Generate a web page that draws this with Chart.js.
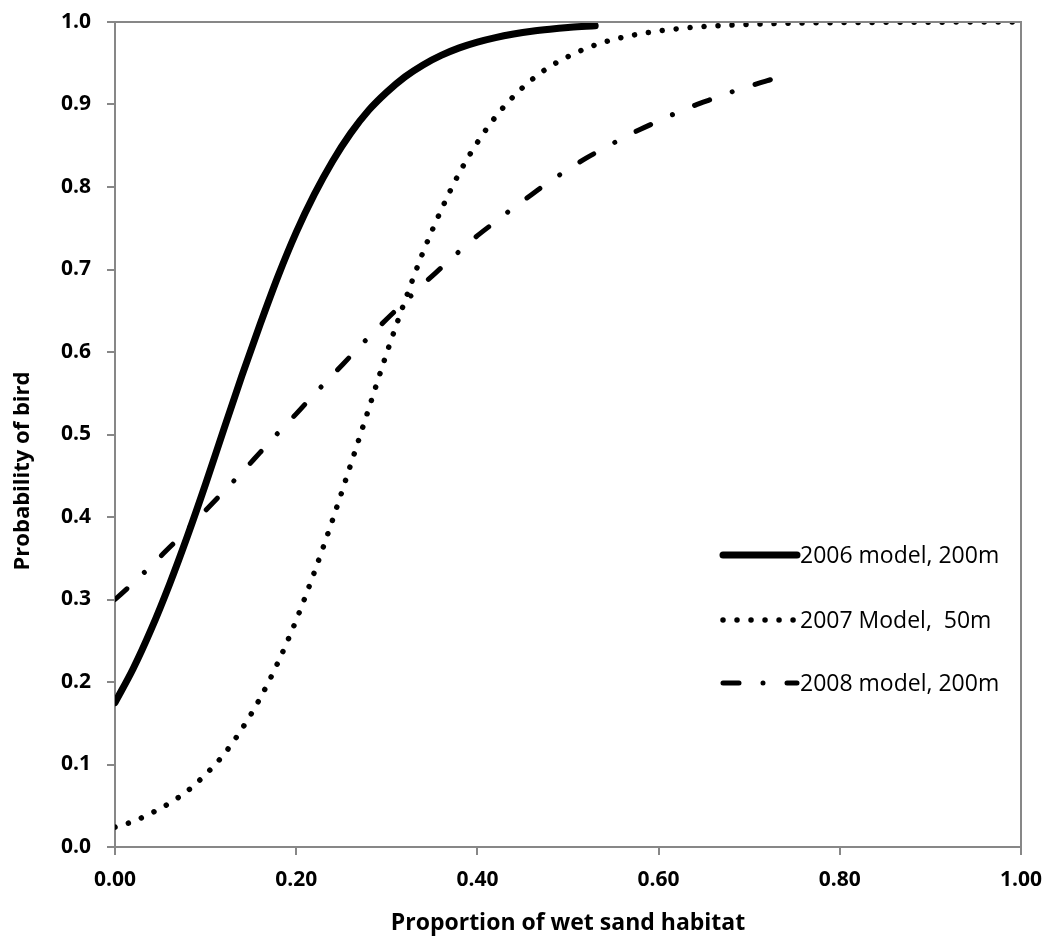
<!DOCTYPE html>
<html>
<head>
<meta charset="utf-8">
<script src="https://cdn.jsdelivr.net/npm/chart.js@4.4.1/dist/chart.umd.min.js"></script>
<style>
  html, body { margin: 0; padding: 0; background: #ffffff; }
  #wrap { width: 1050px; height: 943px; }
</style>
</head>
<body>
<div id="wrap"><canvas id="c" width="1050" height="943"></canvas></div>
<script>
// ---- data ----
const seriesLabels = ["2006 model, 200m", "2007 Model,  50m", "2008 model, 200m"];

const x2006 = [0, 0.02, 0.04, 0.06, 0.08, 0.10, 0.12, 0.14, 0.16, 0.18, 0.20, 0.22, 0.24, 0.26, 0.28, 0.30,
               0.32, 0.34, 0.36, 0.38, 0.40, 0.42, 0.44, 0.46, 0.48, 0.50, 0.52, 0.53];
const y2006 = [0.175, 0.216, 0.264, 0.318, 0.377, 0.440, 0.506, 0.571, 0.633, 0.692, 0.745, 0.791, 0.831, 0.865,
               0.893, 0.915, 0.9335, 0.9480, 0.9595, 0.9686, 0.9756, 0.9811, 0.9854, 0.9888, 0.9913, 0.9933,
               0.9948, 0.9955];

const x2007 = [0, 0.02, 0.04, 0.06, 0.08, 0.10, 0.12, 0.14, 0.16, 0.18, 0.20, 0.22, 0.24, 0.26, 0.28, 0.30,
               0.32, 0.34, 0.36, 0.38, 0.40, 0.42, 0.44, 0.46, 0.48, 0.50, 0.52, 0.54, 0.56, 0.58, 0.60,
               0.62, 0.64, 0.66, 0.68, 0.70, 0.72, 0.74, 0.76, 0.80, 0.85, 0.90, 0.95, 1.00];
const y2007 = [0.024, 0.031, 0.041, 0.053, 0.068, 0.088, 0.112, 0.143, 0.180, 0.224, 0.275, 0.333, 0.396, 0.463,
               0.531, 0.599, 0.662, 0.721, 0.772, 0.817, 0.854, 0.885, 0.910, 0.930, 0.946, 0.958, 0.968,
               0.9756, 0.9814, 0.9857, 0.9891, 0.9917, 0.9937, 0.9952, 0.9963, 0.9972, 0.9979, 0.9984,
               0.9988, 0.9993, 0.9996, 0.9998, 0.9999, 1.000];

const x2008 = [0, 0.02, 0.04, 0.06, 0.08, 0.10, 0.12, 0.14, 0.16, 0.18, 0.20, 0.22, 0.24, 0.26, 0.28, 0.30,
               0.32, 0.34, 0.36, 0.38, 0.40, 0.42, 0.44, 0.46, 0.48, 0.50, 0.52, 0.54, 0.56, 0.58, 0.60,
               0.62, 0.64, 0.66, 0.68, 0.70, 0.72, 0.734];
const y2008 = [0.300, 0.320, 0.341, 0.363, 0.385, 0.408, 0.431, 0.454, 0.478, 0.502, 0.525, 0.549, 0.572, 0.595,
               0.618, 0.640, 0.661, 0.682, 0.702, 0.722, 0.741, 0.758, 0.775, 0.791, 0.807, 0.821, 0.835,
               0.847, 0.859, 0.870, 0.880, 0.890, 0.899, 0.907, 0.915, 0.922, 0.929, 0.933];

const xTickLabels = ["0.00", "0.20", "0.40", "0.60", "0.80", "1.00"];
const yTickLabels = ["0.0", "0.1", "0.2", "0.3", "0.4", "0.5", "0.6", "0.7", "0.8", "0.9", "1.0"];
const xTitle = "Proportion of wet sand habitat";
const yTitle = "Probability of bird";

// ---- helpers ----
function pts(xs, ys) { return xs.map((x, i) => ({ x: x, y: ys[i] })); }

const AXIS_GRAY = '#878787';
const FONT = '"Open Sans"';

const boxPlugin = {
  id: 'boxPlugin',
  afterDatasetsDraw(chart) {
    const a = chart.chartArea, ctx = chart.ctx;
    ctx.save();
    ctx.strokeStyle = AXIS_GRAY;
    ctx.lineWidth = 2;
    ctx.beginPath();
    ctx.moveTo(a.left, a.top);
    ctx.lineTo(a.right, a.top);
    ctx.lineTo(a.right, a.bottom);
    ctx.stroke();
    ctx.restore();
  }
};

// y-axis title (drawn as text, slightly below the plot centre as in the reference)
const yTitlePlugin = {
  id: 'yTitlePlugin',
  afterDraw(chart) {
    const ctx = chart.ctx;
    ctx.save();
    ctx.translate(23, 471);
    ctx.rotate(-Math.PI / 2);
    ctx.fillStyle = '#000';
    ctx.font = 'bold 22px ' + FONT;
    ctx.textAlign = 'center';
    ctx.textBaseline = 'middle';
    ctx.fillText(yTitle, 0, 0);
    ctx.restore();
  }
};

const legendPlugin = {
  id: 'insideLegend',
  afterDraw(chart) {
    const ctx = chart.ctx;
    const rows = [555, 620, 683];
    const x1 = 723, x2 = 797;
    ctx.save();
    chart.data.datasets.forEach((ds, i) => {
      const y = rows[i];
      ctx.strokeStyle = ds.borderColor;
      ctx.lineWidth = ds.borderWidth;
      ctx.lineCap = ds.borderCapStyle || 'butt';
      ctx.setLineDash(ds.borderDash || []);
      ctx.beginPath();
      ctx.moveTo(x1, y);
      ctx.lineTo(x2, y);
      ctx.stroke();
      ctx.setLineDash([]);
      ctx.fillStyle = '#000';
      ctx.font = '23px ' + FONT;
      ctx.textAlign = 'left';
      ctx.textBaseline = 'middle';
      ctx.fillText(ds.label, 800, y + 1);
    });
    ctx.restore();
  }
};

new Chart(document.getElementById('c'), {
  type: 'line',
  data: {
    datasets: [
      { label: seriesLabels[0], data: pts(x2006, y2006), borderColor: '#000', borderWidth: 7,
        borderCapStyle: 'round', borderDash: [], pointRadius: 0, fill: false, cubicInterpolationMode: 'monotone' },
      { label: seriesLabels[1], data: pts(x2007, y2007), borderColor: '#000', borderWidth: 5.5,
        borderCapStyle: 'round', borderDash: [0.01, 14], pointRadius: 0, fill: false, cubicInterpolationMode: 'monotone' },
      { label: seriesLabels[2], data: pts(x2008, y2008), borderColor: '#000', borderWidth: 5,
        borderCapStyle: 'round', borderDash: [16, 24, 0.01, 24], pointRadius: 0, fill: false, cubicInterpolationMode: 'monotone' }
    ]
  },
  options: {
    responsive: false,
    animation: false,
    devicePixelRatio: 1,
    layout: { padding: { left: 0, right: 29, top: 22, bottom: 0 } },
    plugins: { legend: { display: false }, tooltip: { enabled: false } },
    scales: {
      x: {
        type: 'linear', min: 0, max: 1,
        afterBuildTicks(scale) { scale.ticks = xTickLabels.map(v => ({ value: parseFloat(v) })); },
        afterFit(scale) { scale.height = 96; scale.paddingLeft = 0; scale.paddingRight = 0; },
        ticks: {
          callback: (v, i) => xTickLabels[i],
          color: '#000', padding: 12, maxRotation: 0, autoSkip: false,
          font: { family: FONT, size: 21, weight: 'bold' }
        },
        grid: { display: true, drawOnChartArea: false, drawTicks: true, tickLength: 8, color: AXIS_GRAY, lineWidth: 2 },
        border: { display: true, color: AXIS_GRAY, width: 2 },
        title: { display: true, text: xTitle, color: '#000', padding: { top: 0, bottom: 6 },
                 font: { family: FONT, size: 23, weight: 'bold' } }
      },
      y: {
        type: 'linear', min: 0, max: 1,
        afterBuildTicks(scale) { scale.ticks = yTickLabels.map(v => ({ value: parseFloat(v) })); },
        afterFit(scale) { scale.width = 115; scale.paddingTop = 0; scale.paddingBottom = 0; },
        ticks: {
          callback: (v, i) => yTickLabels[i],
          color: '#000', padding: 16, autoSkip: false,
          font: { family: FONT, size: 21, weight: 'bold' }
        },
        grid: { display: true, drawOnChartArea: false, drawTicks: true, tickLength: 8, color: AXIS_GRAY, lineWidth: 2 },
        border: { display: true, color: AXIS_GRAY, width: 2 },
        title: { display: false, text: yTitle }
      }
    }
  },
  plugins: [boxPlugin, yTitlePlugin, legendPlugin]
});
</script>
</body>
</html>
